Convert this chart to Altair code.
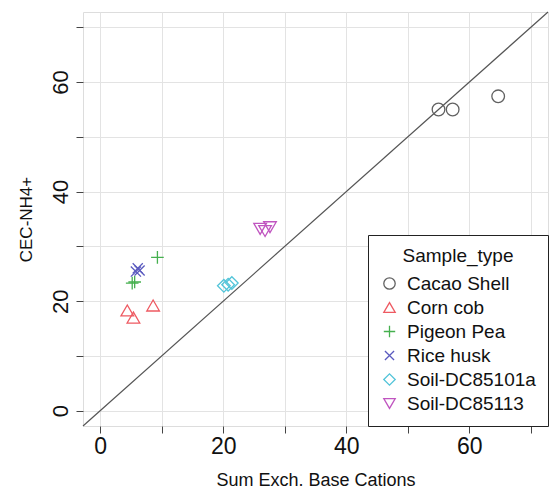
import altair as alt
import pandas as pd

# Measurements per sample type
sample_types = ["Cacao Shell", "Corn cob", "Pigeon Pea", "Rice husk",
                "Soil-DC85101a", "Soil-DC85113"]
sum_bases = {
    "Cacao Shell": [55.0, 57.3, 64.7],
    "Corn cob": [4.4, 5.4, 8.6],
    "Pigeon Pea": [5.2, 5.6, 9.3],
    "Rice husk": [5.8, 6.1, 6.4],
    "Soil-DC85101a": [20.1, 20.8, 21.4],
    "Soil-DC85113": [26.0, 26.8, 27.6],
}
cec_nh4 = {
    "Cacao Shell": [55.0, 55.0, 57.4],
    "Corn cob": [18.3, 17.0, 19.2],
    "Pigeon Pea": [23.3, 23.5, 28.0],
    "Rice husk": [25.4, 26.0, 25.6],
    "Soil-DC85101a": [22.8, 23.0, 23.3],
    "Soil-DC85113": [33.2, 32.8, 33.5],
}
colors = ["#616161", "#EE5A62", "#45B04E", "#5A5ABF", "#52C4D9", "#C055C0"]
shapes = ["circle", "triangle-up", "M-1,0L1,0M0,-1L0,1",
          "M-0.8,-0.8L0.8,0.8M-0.8,0.8L0.8,-0.8", "diamond", "triangle-down"]

axis_lo, axis_hi = -2.8, 72.8
tick_values = [0, 10, 20, 30, 40, 50, 60, 70]

rows = []
for s in sample_types:
    for xv, yv in zip(sum_bases[s], cec_nh4[s]):
        rows.append({"Sample_type": s, "sum_bases": xv, "cec": yv})
df = pd.DataFrame(rows)

line_df = pd.DataFrame({"x": [axis_lo], "y": [axis_lo], "x2": [axis_hi], "y2": [axis_hi]})

font = "Liberation Sans"

x_scale = alt.Scale(domain=[axis_lo, axis_hi], nice=False, zero=False)
y_scale = alt.Scale(domain=[axis_lo, axis_hi], nice=False, zero=False)

label_expr = "datum.value % 20 === 0 ? datum.label : ''"

x_axis = alt.Axis(title="Sum Exch. Base Cations", values=tick_values,
                  labelExpr=label_expr, grid=True, domain=False,
                  tickSize=7, tickColor="#444", labelFontSize=23,
                  labelColor="#111", labelPadding=2, titleFontSize=18,
                  titleFontWeight="normal", titleColor="#111", titlePadding=13,
                  labelFont=font, titleFont=font, gridColor="#e3e3e3")
y_axis = alt.Axis(title="CEC-NH4+", values=tick_values,
                  labelExpr=label_expr, grid=True, domain=False,
                  tickSize=7, tickColor="#444", labelFontSize=22, labelAngle=270,
                  labelColor="#111", labelPadding=4, titleFontSize=17,
                  titleFontWeight="normal", titleColor="#111", titlePadding=14,
                  labelFont=font, titleFont=font, gridColor="#e3e3e3")

legend = alt.Legend(
    title="Sample_type", orient="bottom-right", offset=0, padding=12,
    strokeColor="#222", fillColor="white",
    titleFontSize=19, titleFontWeight="normal", titleColor="#111", titleFont=font,
    titleAnchor="middle", titlePadding=8,
    labelFontSize=19, labelColor="#111", labelFont=font, labelOffset=8,
    symbolSize=130, symbolStrokeWidth=1.3, rowPadding=4,
)

diag = alt.Chart(line_df).mark_rule(color="#555", strokeWidth=1.2).encode(
    x=alt.X("x:Q", scale=x_scale, axis=x_axis),
    y=alt.Y("y:Q", scale=y_scale, axis=y_axis),
    x2="x2:Q",
    y2="y2:Q",
)

points = alt.Chart(df).mark_point(filled=False, size=160, strokeWidth=1.3, opacity=1).encode(
    x=alt.X("sum_bases:Q", scale=x_scale, axis=x_axis),
    y=alt.Y("cec:Q", scale=y_scale, axis=y_axis),
    color=alt.Color("Sample_type:N", scale=alt.Scale(domain=sample_types, range=colors),
                    legend=legend),
    shape=alt.Shape("Sample_type:N", scale=alt.Scale(domain=sample_types, range=shapes),
                    legend=legend),
)

chart = alt.layer(diag, points).properties(
    width=465, height=414,
    autosize=alt.AutoSizeParams(type="none"),
    padding={"left": 83, "top": 12, "right": 6, "bottom": 65},
).configure_view(
    stroke="#222", strokeWidth=1.5, fill="white"
).configure_legend(
    strokeWidth=1.5,
).configure(background="white")

chart.save("out.html", embed_options={"renderer": "svg", "actions": False})
